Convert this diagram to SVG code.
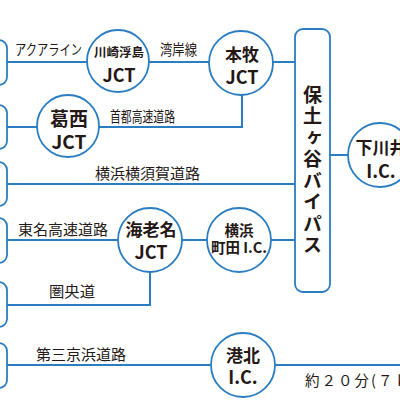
<svg xmlns="http://www.w3.org/2000/svg" width="400" height="400" viewBox="0 0 400 400">
<style>
.ln{fill:none;stroke:#2b7dc1;stroke-width:2}
.nd{fill:#fff;stroke:#2b7dc1;stroke-width:1.8}
.t{font-family:"Noto Sans CJK JP","Noto Sans",sans-serif;fill:#231815;text-anchor:middle}
.b{font-weight:700}
.lb{font-family:"Noto Sans CJK JP","Noto Sans",sans-serif;fill:#231815;font-size:14.5px}
</style>
<rect width="400" height="400" fill="#fff"/>
<g id="connectors">
<path class="ln" d="M7 62H87M149 62H209M273 62H295"/>
<path class="ln" d="M242 95V127H99M7 127H37"/>
<path class="ln" d="M7 184H295"/>
<path class="ln" d="M330 155H348"/>
<path class="ln" d="M7 240H118M182 240H207M271 240H295"/>
<path class="ln" d="M150 272V305H7"/>
<path class="ln" d="M7 365H211M275 365H400"/>
</g>
<g id="left-boxes">
<rect class="nd" x="-40" y="40" width="47" height="45" rx="8"/>
<rect class="nd" x="-40" y="105" width="47" height="44" rx="8"/>
<rect class="nd" x="-40" y="162" width="47" height="44" rx="8"/>
<rect class="nd" x="-40" y="218" width="47" height="45" rx="8"/>
<rect class="nd" x="-40" y="282" width="47" height="45" rx="8"/>
<rect class="nd" x="-40" y="343" width="47" height="45" rx="8"/>
</g>
<g id="hodogaya">
<rect class="nd" x="295" y="29" width="35" height="263" rx="8"/>
<text class="t b" x="312.5" y="171" font-size="19" writing-mode="vertical-rl" letter-spacing="2.5">保土ヶ谷バイパス</text>
</g>
<g id="kawasaki-ukishima">
<circle class="nd" cx="118" cy="61" r="31"/>
<text class="t b"><tspan x="119" y="57" font-size="12.5">川崎浮島</tspan><tspan x="119" y="82" font-size="18">JCT</tspan></text>
</g>
<g id="honmoku">
<circle class="nd" cx="241" cy="63" r="32"/>
<text class="t b"><tspan x="242" y="61" font-size="17">本牧</tspan><tspan x="242" y="84" font-size="18">JCT</tspan></text>
</g>
<g id="kasai">
<circle class="nd" cx="68" cy="126" r="31"/>
<text class="t b" font-size="19"><tspan x="69" y="126">葛西</tspan><tspan x="69" y="149">JCT</tspan></text>
</g>
<g id="shimokawai">
<circle class="nd" cx="380" cy="155" r="32"/>
<text class="t b"><tspan x="381" y="154" font-size="17">下川井</tspan><tspan x="381" y="178" font-size="18">I.C.</tspan></text>
</g>
<g id="ebina">
<circle class="nd" cx="150" cy="240" r="32"/>
<text class="t b"><tspan x="151" y="236" font-size="17">海老名</tspan><tspan x="151" y="259" font-size="18">JCT</tspan></text>
</g>
<g id="yokohama-machida">
<circle class="nd" cx="239" cy="240" r="32"/>
<text class="t b" font-size="14.5"><tspan x="239" y="236">横浜</tspan><tspan x="239" y="253">町田 I.C.</tspan></text>
</g>
<g id="kohoku">
<circle class="nd" cx="243" cy="365" r="32"/>
<text class="t b"><tspan x="243" y="362" font-size="17">港北</tspan><tspan x="243" y="384" font-size="18">I.C.</tspan></text>
</g>
<g id="labels">
<text class="lb" x="15" y="55" font-size="12" textLength="67" lengthAdjust="spacingAndGlyphs">アクアライン</text>
<text class="lb" x="160" y="55" font-size="12.5" textLength="37" lengthAdjust="spacingAndGlyphs">湾岸線</text>
<text class="lb" x="110" y="122" font-size="10.5" textLength="65" lengthAdjust="spacingAndGlyphs">首都高速道路</text>
<text class="lb" x="95" y="179" textLength="105" lengthAdjust="spacingAndGlyphs">横浜横須賀道路</text>
<text class="lb" x="18" y="235" textLength="90" lengthAdjust="spacingAndGlyphs">東名高速道路</text>
<text class="lb" x="49" y="297" textLength="46" lengthAdjust="spacingAndGlyphs">圏央道</text>
<text class="lb" x="36" y="360" textLength="90" lengthAdjust="spacingAndGlyphs">第三京浜道路</text>
<text class="lb" x="305" y="386" letter-spacing="2">約２０分(７ｋｍ)</text>
</g>
</svg>
